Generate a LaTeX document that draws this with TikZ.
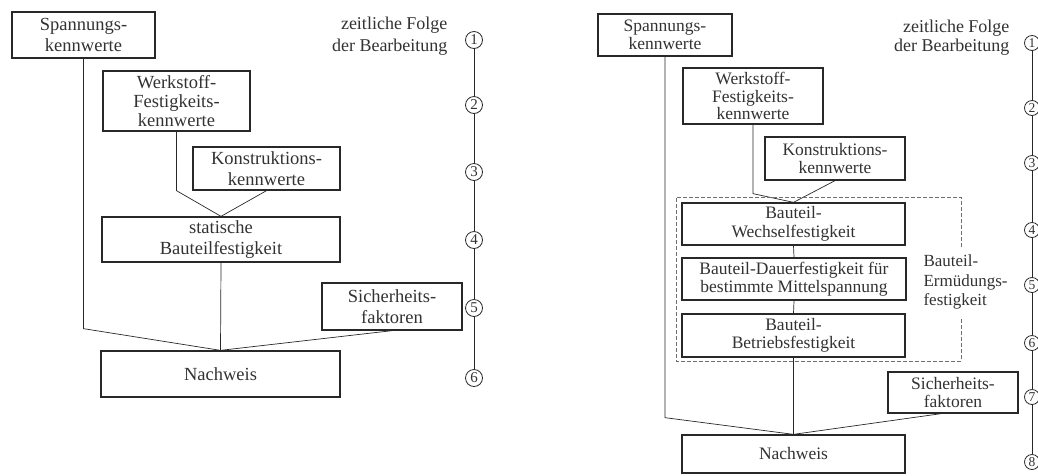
\documentclass[tikz,border=0pt]{standalone}
\usepackage{fontspec}
\setmainfont{Liberation Serif}
\usetikzlibrary{positioning,calc}
\definecolor{myink}{RGB}{40,40,40}
\definecolor{mytext}{RGB}{50,50,50}
\definecolor{mydash}{RGB}{110,110,110}

\begin{document}
\begin{tikzpicture}[x=1pt,y=-1pt,
boxl/.style={
  draw=myink,
  line width=1.3pt,
  align=center,
  inner sep=0pt,
  text=mytext,
  font=\fontsize{18.5}{21}\selectfont},
boxr/.style={boxl,font=\fontsize{17.5}{18.5}\selectfont},
conn/.style={draw=myink,line width=0.7pt},
numc/.style={circle,draw=myink,line width=0.8pt,inner sep=0pt,
  minimum size=17pt,text=mytext,font=\fontsize{15}{15}\selectfont},
lbl/.style={align=right,text=mytext,font=\fontsize{18}{22}\selectfont},
]
\useasboundingbox (0,0) rectangle (1038,475);
% left diagram
\node[boxl,minimum width=143pt,minimum height=46pt] (SpaL) at (83.5,35) {Spannungs-\\kennwerte};
\node[boxl,minimum width=147pt,minimum height=60pt,font=\fontsize{18.5}{19}\selectfont] (WerL) at (176.5,101) {Werkstoff-\\Festigkeits-\\kennwerte};
\node[boxl,minimum width=147pt,minimum height=43pt] (KonL) at (266.5,168.5) {Konstruktions-\\kennwerte};
\node[boxl,minimum width=238pt,minimum height=45pt] (StaL) at (221,239.5) {statische\\Bauteilfestigkeit};
\node[boxl,minimum width=140pt,minimum height=47pt] (SicL) at (392,306.5) {Sicherheits-\\faktoren};
\node[boxl,minimum width=239pt,minimum height=46pt] (NacL) at (220.5,374) {Nachweis};
\draw[conn] (SpaL.south) -- ++(0,270) -- (NacL.north);
\draw[conn] (WerL.south) -- ++(0,59) -- (StaL.north);
\draw[conn] (KonL.south) -- (StaL.north);
\draw[conn] (StaL.south) -- (NacL.north);
\draw[conn] (SicL.south) -- (NacL.north);
\node[lbl,anchor=east] (FolL) at (451,36) {zeitliche Folge\\der Bearbeitung};
\foreach \i/\y in {1/40,2/105,3/172,4/240,5/308,6/378}
  \node[numc] (cl\i) at (474,\y) {\i};
\foreach \i [count=\j from 2] in {1,...,5}
  \draw[conn] (cl\i) -- (cl\j);
% right diagram
\node[boxr,minimum width=134pt,minimum height=42pt] (SpaR) at (665,35) {Spannungs-\\kennwerte};
\node[boxr,minimum width=140pt,minimum height=56pt,font=\fontsize{17.5}{17.5}\selectfont] (WerR) at (753,96) {Werkstoff-\\Festigkeits-\\kennwerte};
\node[boxr,minimum width=140pt,minimum height=43pt] (KonR) at (835,158.5) {Konstruktions-\\kennwerte};
\node[boxr,minimum width=223pt,minimum height=42pt] (WecR) at (793.5,224) {Bauteil-\\Wechselfestigkeit};
\node[boxr,minimum width=224pt,minimum height=42pt] (DauR) at (794,279) {Bauteil-Dauerfestigkeit für\\bestimmte Mittelspannung};
\node[boxr,minimum width=223pt,minimum height=43pt] (BetR) at (793.5,335.5) {Bauteil-\\Betriebsfestigkeit};
\node[boxr,minimum width=130pt,minimum height=41pt] (SicR) at (953,392.5) {Sicherheits-\\faktoren};
\node[boxr,minimum width=223pt,minimum height=38pt] (NacR) at (793.5,454) {Nachweis};
\draw[conn] (SpaR.south) -- ++(0,361) -- (NacR.north);
\draw[conn] (WerR.south) -- ++(0,69) -- (WecR.north);
\draw[conn] (KonR.south) -- (WecR.north);
\draw[conn] (WecR.south) -- (DauR.north);
\draw[conn] (DauR.south) -- (BetR.north);
\draw[conn] (BetR.south) -- (NacR.north);
\draw[conn] ([xshift=-12pt]SicR.south) -- (NacR.north);
\draw[mydash,line width=0.8pt,dash pattern=on 4pt off 2pt]
  (961,247) -- (961,197) -- (676,197) -- (676,361) -- (961,361) -- (961,317);
\node[lbl,align=left,anchor=west,font=\fontsize{17}{19.5}\selectfont] (ErmR) at (920,282) {Bauteil-\\Ermüdungs-\\festigkeit};
\node[lbl,anchor=east,font=\fontsize{18}{19.5}\selectfont] (FolR) at (1013,37.5) {zeitliche Folge\\der Bearbeitung};
\foreach \i/\y in {1/43,2/108,3/163,4/230,5/285,6/343,7/397,8/462}
  \node[numc,minimum size=15pt,font=\fontsize{13.5}{13.5}\selectfont] (cr\i) at (1032,\y) {\i};
\foreach \i [count=\j from 2] in {1,...,7}
  \draw[conn] (cr\i) -- (cr\j);
\end{tikzpicture}
\end{document}
